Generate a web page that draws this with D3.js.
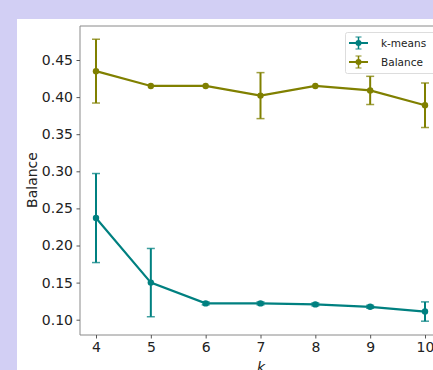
<!DOCTYPE html>
<html>
<head>
<script src="https://d3js.org/d3.v7.min.js"></script>
<style>
body { margin: 0; background: #d2cff4; }
svg { display: block; font-family: "DejaVu Sans", sans-serif; }
</style>
</head>
<body>
<script>
const ks = [4, 5, 6, 7, 8, 9, 10];
const kmeans = [0.237, 0.150, 0.122, 0.122, 0.1206, 0.1174, 0.111];
const kmeansErr = [0.060, 0.046, 0.002, 0.002, 0.002, 0.002, 0.013];
const balance = [0.435, 0.415, 0.415, 0.402, 0.415, 0.409, 0.389];
const balanceErr = [0.043, 0, 0, 0.031, 0, 0.019, 0.030];
const yTicks = [0.10, 0.15, 0.20, 0.25, 0.30, 0.35, 0.40, 0.45];
const seriesNames = ['k-means', 'Balance'];
const colors = ['#008080', '#808000'];

const width = 433, height = 370;
const plot = { left: 80, top: 26, right: 440, bottom: 335 };

const x = d3.scaleLinear().domain([4, 10]).range([96, 425]);
const y = d3.scaleLinear().domain([0.10, 0.45]).range([319.7, 60]);

const svg = d3.select('body').append('svg')
    .attr('width', width).attr('height', height);

svg.append('rect').attr('x', 17).attr('y', 19)
    .attr('width', width - 17).attr('height', height - 19).attr('fill', '#fff');

// spines
svg.append('path')
    .attr('d', `M${plot.right},${plot.top}H${plot.left}V${plot.bottom}H${plot.right}`)
    .attr('fill', 'none').attr('stroke', '#8a8a8a').attr('stroke-width', 1);

const yAxis = svg.append('g')
    .attr('transform', `translate(${plot.left},0)`)
    .call(d3.axisLeft(y).tickValues(yTicks).tickFormat(d3.format('.2f')).tickSize(3.5).tickPadding(3.5));
const xAxis = svg.append('g')
    .attr('transform', `translate(0,${plot.bottom})`)
    .call(d3.axisBottom(x).tickValues(ks).tickFormat(d3.format('d')).tickSize(3.5).tickPadding(4));
[xAxis, yAxis].forEach(a => {
    a.select('.domain').remove();
    a.selectAll('line').attr('stroke', '#555');
    a.selectAll('text').attr('font-size', 14).attr('fill', '#222')
        .attr('font-family', '"DejaVu Sans", sans-serif');
});

svg.append('text').attr('transform', 'translate(37,180) rotate(-90)')
    .attr('text-anchor', 'middle').attr('font-size', 14).attr('fill', '#222')
    .text('Balance');
svg.append('text').attr('x', 261).attr('y', 372)
    .attr('text-anchor', 'middle').attr('font-size', 14).attr('font-style', 'italic')
    .attr('fill', '#222').text('k');

const series = [
    { name: seriesNames[0], vals: kmeans, errs: kmeansErr, color: colors[0] },
    { name: seriesNames[1], vals: balance, errs: balanceErr, color: colors[1] }
];

const line = d3.line().x(d => x(d.k)).y(d => y(d.v));

series.forEach(s => {
    const pts = ks.map((k, i) => ({ k, v: s.vals[i], e: s.errs[i] }));
    const g = svg.append('g');
    g.append('path').datum(pts).attr('d', line)
        .attr('fill', 'none').attr('stroke', s.color).attr('stroke-width', 2.2);
    const eb = g.selectAll('.eb').data(pts.filter(d => d.e > 0)).join('g');
    eb.append('line')
        .attr('x1', d => x(d.k)).attr('x2', d => x(d.k))
        .attr('y1', d => y(d.v - d.e)).attr('y2', d => y(d.v + d.e))
        .attr('stroke', s.color).attr('stroke-width', 2);
    [-1, 1].forEach(sign => {
        eb.append('line')
            .attr('x1', d => x(d.k) - 4).attr('x2', d => x(d.k) + 4)
            .attr('y1', d => y(d.v + sign * d.e)).attr('y2', d => y(d.v + sign * d.e))
            .attr('stroke', s.color).attr('stroke-width', 1.5).attr('opacity', 0.75);
    });
    g.selectAll('circle').data(pts).join('circle')
        .attr('cx', d => x(d.k)).attr('cy', d => y(d.v)).attr('r', 3.2)
        .attr('fill', s.color);
});

// legend
const lg = svg.append('g');
lg.append('rect').attr('x', 345.5).attr('y', 32.5).attr('width', 100).attr('height', 41)
    .attr('rx', 2).attr('fill', '#fff').attr('stroke', '#ddd');
series.forEach((s, i) => {
    const ly = 43 + i * 19;
    lg.append('line').attr('x1', 349).attr('x2', 368).attr('y1', ly).attr('y2', ly)
        .attr('stroke', s.color).attr('stroke-width', 2);
    lg.append('line').attr('x1', 358.5).attr('x2', 358.5).attr('y1', ly - 6).attr('y2', ly + 6)
        .attr('stroke', s.color).attr('stroke-width', 1.5);
    [-6, 6].forEach(o => lg.append('line').attr('x1', 355.5).attr('x2', 361.5)
        .attr('y1', ly + o).attr('y2', ly + o).attr('stroke', s.color).attr('stroke-width', 1.2).attr('opacity', 0.75));
    lg.append('circle').attr('cx', 358.5).attr('cy', ly).attr('r', 3).attr('fill', s.color);
    lg.append('text').attr('x', 381).attr('y', ly + 4).attr('font-size', 10.5).attr('fill', '#222')
        .text(s.name);
});
</script>
</body>
</html>
